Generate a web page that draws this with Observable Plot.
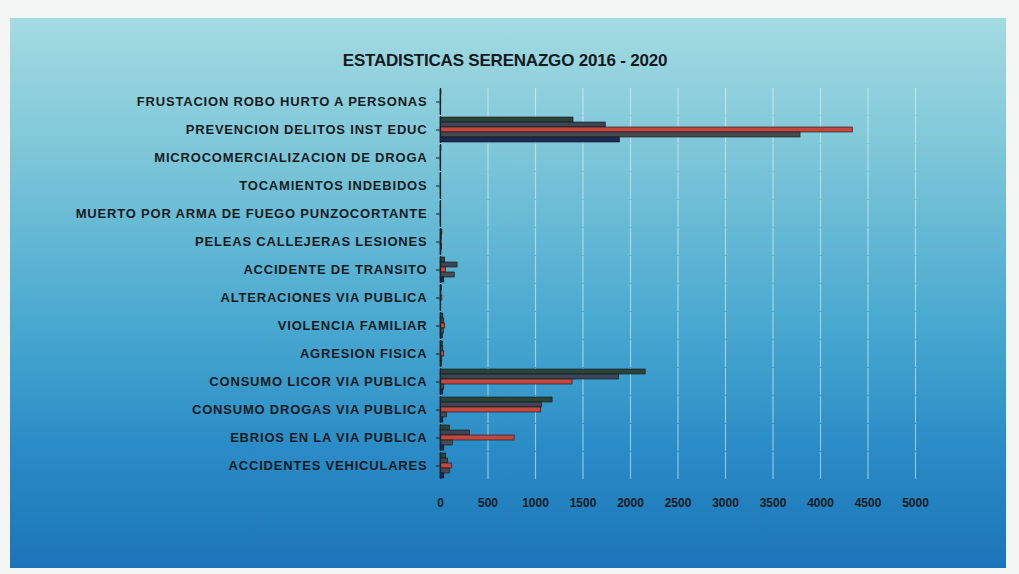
<!DOCTYPE html>
<html>
<head>
<meta charset="utf-8">
<script src="https://cdn.jsdelivr.net/npm/d3@7"></script>
<script src="https://cdn.jsdelivr.net/npm/@observablehq/plot@0.6"></script>
<style>
  html, body { margin: 0; padding: 0; background: #f4f6f6; }
  #wrap { position: relative; width: 1019px; height: 574px; overflow: hidden; }
  #panel { position: absolute; left: 10px; top: 18px; width: 996px; height: 550px;
    background: linear-gradient(180deg, #a4dbe2 0%, #7cc6d8 25%, #4aa9d0 55%, #2a8cc6 78%, #1c74b8 100%); }
  #title { position: absolute; left: 0; width: 1010px; top: 51px; text-align: center;
    font: bold 17px "Liberation Sans", Arial, sans-serif; color: #141a20; letter-spacing: -0.2px; }
  #chart { position: absolute; left: 0; top: 0; }
  g[aria-label="fy-axis tick label"] text { letter-spacing: 0.8px; }
</style>
</head>
<body>
<div id="wrap">
  <div id="panel"></div>
  <div id="title">ESTADISTICAS SERENAZGO 2016 - 2020</div>
  <div id="chart"></div>
</div>
<script>
const categories = [
  "FRUSTACION ROBO HURTO A PERSONAS",
  "PREVENCION DELITOS INST EDUC",
  "MICROCOMERCIALIZACION DE DROGA",
  "TOCAMIENTOS INDEBIDOS",
  "MUERTO POR ARMA DE FUEGO PUNZOCORTANTE",
  "PELEAS CALLEJERAS LESIONES",
  "ACCIDENTE DE TRANSITO",
  "ALTERACIONES VIA PUBLICA",
  "VIOLENCIA FAMILIAR",
  "AGRESION FISICA",
  "CONSUMO LICOR VIA PUBLICA",
  "CONSUMO DROGAS VIA PUBLICA",
  "EBRIOS EN LA VIA PUBLICA",
  "ACCIDENTES VEHICULARES"
];
const years = ["2016", "2017", "2018", "2019", "2020"];
const v2016 = [10, 1400, 10, 5, 4, 20, 50, 15, 30, 25, 2160, 1180, 100, 60];
const v2017 = [5, 1740, 6, 4, 3, 15, 180, 10, 40, 30, 1880, 1070, 310, 80];
const v2018 = [8, 4340, 4, 3, 2, 12, 60, 20, 50, 40, 1390, 1060, 780, 120];
const v2019 = [3, 3790, 8, 6, 5, 18, 150, 8, 35, 20, 40, 70, 130, 100];
const v2020 = [2, 1890, 3, 2, 1, 10, 40, 5, 25, 15, 30, 30, 40, 40];
const seriesColors = ["#2b4438", "#3a4656", "#c4463f", "#474a4e", "#1d2a55"];
const xTicks = [0, 500, 1000, 1500, 2000, 2500, 3000, 3500, 4000, 4500, 5000];

const allValues = [v2016, v2017, v2018, v2019, v2020];
const data = [];
categories.forEach((c, i) => {
  years.forEach((y, j) => data.push({category: c, year: y, value: allValues[j][i]}));
});

const chart = Plot.plot({
  width: 1019,
  height: 574,
  marginLeft: 440,
  marginRight: 104,
  marginTop: 84,
  marginBottom: 91,
  style: {background: "transparent", fontFamily: "Liberation Sans, Arial, sans-serif", fontWeight: "bold", color: "#161b22"},
  x: {domain: [0, 5000], ticks: xTicks, tickFormat: d => String(d), label: null, tickSize: 0, tickPadding: 12},
  fy: {domain: categories, padding: 0.05, label: null},
  y: {domain: years, axis: null, padding: 0.02},
  color: {domain: years, range: seriesColors},
  marks: [
    Plot.gridX(xTicks.filter(d => d > 0), {stroke: "#e8f6fa", strokeOpacity: 0.55, strokeWidth: 1.2}),
    Plot.barX(data, {fy: "category", y: "year", x: "value", fill: "year", stroke: "#101418", strokeWidth: 0.6}),
    Plot.axisFy({anchor: "left", label: null, tickSize: 4, tickPadding: 9, fontSize: 13, fontWeight: "bold", fill: "#161b22"}),
    Plot.ruleX([0], {stroke: "#1a1f26", strokeWidth: 1.2}),
    Plot.axisX({ticks: xTicks, tickFormat: d => String(d), tickSize: 0, tickPadding: 19, fontSize: 12, fontWeight: "bold", label: null, fill: "#161b22"})
  ]
});
document.getElementById("chart").appendChild(chart);
</script>
</body>
</html>
